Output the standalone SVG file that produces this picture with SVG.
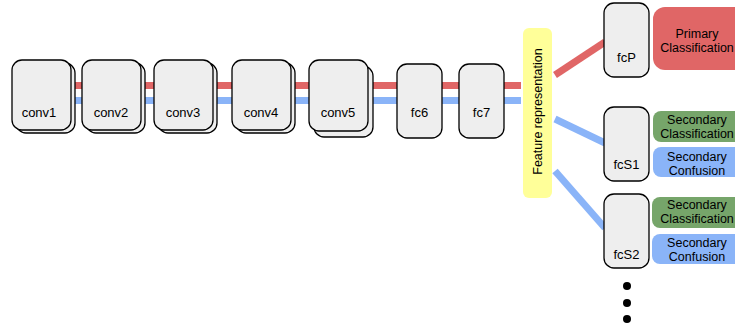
<svg xmlns="http://www.w3.org/2000/svg" width="735" height="327" viewBox="0 0 735 327">
<style>
.n{fill:#eeeeee;stroke:#000;stroke-width:1.3}
.t{font-family:"Liberation Sans",Arial,sans-serif;font-size:13px;fill:#000;text-anchor:middle}
.b{font-size:12.5px}
.red{stroke:#e06666;stroke-width:7;fill:none}
.blue{stroke:#8ab4f8;stroke-width:7;fill:none}
</style>
<rect width="735" height="327" fill="#fff"/>
<g id="connectors">
<line class="red" x1="70" y1="85.5" x2="521" y2="85.5"/>
<line class="blue" x1="70" y1="100.5" x2="521" y2="100.5"/>
<line class="red" x1="555" y1="75" x2="605" y2="42" stroke-width="8"/>
<line class="blue" x1="555" y1="119" x2="605" y2="143" stroke-width="8"/>
<line class="blue" x1="555" y1="171" x2="605" y2="228" stroke-width="8"/>
</g>
<g id="conv1"><rect class="n" x="16" y="63" width="59" height="70" rx="10"/><rect class="n" x="12" y="60" width="59" height="70" rx="10"/><text class="t" x="39" y="117">conv1</text></g>
<g id="conv2"><rect class="n" x="86" y="63" width="59" height="70" rx="10"/><rect class="n" x="82" y="60" width="59" height="70" rx="10"/><text class="t" x="111" y="117">conv2</text></g>
<g id="conv3"><rect class="n" x="158" y="63" width="59" height="70" rx="10"/><rect class="n" x="154" y="60" width="59" height="70" rx="10"/><text class="t" x="183" y="117">conv3</text></g>
<g id="conv4"><rect class="n" x="236" y="63" width="59" height="70" rx="10"/><rect class="n" x="232" y="60" width="59" height="70" rx="10"/><text class="t" x="261" y="117">conv4</text></g>
<g id="conv5"><rect class="n" x="314" y="66" width="59" height="71" rx="10"/><rect class="n" x="309" y="60" width="59" height="71" rx="10"/><text class="t" x="338" y="117">conv5</text></g>
<g id="fc6"><rect class="n" x="397" y="64" width="45" height="74" rx="10"/><text class="t" x="419.5" y="117">fc6</text></g>
<g id="fc7"><rect class="n" x="459" y="64" width="45" height="74" rx="10"/><text class="t" x="481.5" y="117">fc7</text></g>
<g id="feature"><rect x="523" y="28" width="29" height="170" rx="6" fill="#ffff99"/><text class="t" transform="translate(542,111.5) rotate(-90)" style="font-size:12.5px">Feature representation</text></g>
<g id="fcP"><rect class="n" x="604" y="3" width="45" height="74" rx="10"/><text class="t" x="626.5" y="62">fcP</text></g>
<g id="primary"><rect x="653" y="7" width="100" height="63" rx="12" fill="#e06666"/><text class="t b" x="697" y="38">Primary</text><text class="t b" x="697" y="52">Classification</text></g>
<g id="fcS1"><rect class="n" x="604" y="107" width="45" height="74" rx="10"/><text class="t" x="626.5" y="169">fcS1</text></g>
<g id="secClass1"><rect x="653" y="111" width="100" height="31" rx="8" fill="#76a56a"/><text class="t b" x="697" y="124">Secondary</text><text class="t b" x="697" y="138">Classification</text></g>
<g id="secConf1"><rect x="653" y="147" width="100" height="30" rx="8" fill="#8ab4f8"/><text class="t b" x="697" y="161">Secondary</text><text class="t b" x="697" y="175">Confusion</text></g>
<g id="fcS2"><rect class="n" x="604" y="194" width="45" height="74" rx="10"/><text class="t" x="626.5" y="259">fcS2</text></g>
<g id="secClass2"><rect x="652" y="197" width="100" height="31" rx="8" fill="#76a56a"/><text class="t b" x="697" y="209">Secondary</text><text class="t b" x="697" y="223">Classification</text></g>
<g id="secConf2"><rect x="652" y="234" width="100" height="30" rx="8" fill="#8ab4f8"/><text class="t b" x="697" y="247">Secondary</text><text class="t b" x="697" y="261">Confusion</text></g>
<g id="dots" fill="#000"><circle cx="627" cy="286" r="4"/><circle cx="627" cy="303" r="4"/><circle cx="627" cy="319" r="4"/></g>
</svg>
